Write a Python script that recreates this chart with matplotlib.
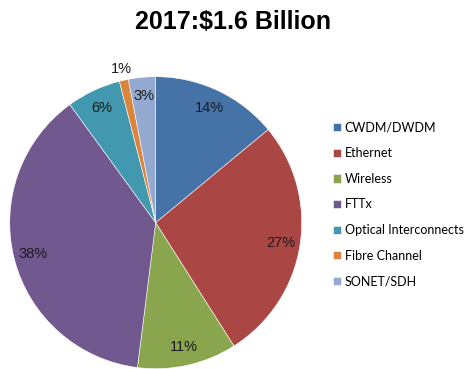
import matplotlib
matplotlib.use("Agg")
import matplotlib.pyplot as plt

# market share by segment, 2017
segments = ["CWDM/DWDM", "Ethernet", "Wireless", "FTTx",
            "Optical Interconnects", "Fibre Channel", "SONET/SDH"]
shares = [14, 27, 11, 38, 6, 1, 3]
colors = ["#4572A7", "#AA4643", "#89A54E", "#71588F", "#4198AF", "#DB843D", "#93A9CF"]

fig = plt.figure(figsize=(4.72, 3.69), dpi=100)
ax = fig.add_axes([0.0206, 0.0008, 0.6186, 0.7913])

wedges, texts, pcts = ax.pie(shares, colors=colors, startangle=90, counterclock=False,
                             radius=1, autopct="%1.0f%%", pctdistance=0.87,
                             wedgeprops=dict(edgecolor="white", linewidth=0.4),
                             textprops=dict(fontsize=10.5, family="Liberation Sans", color="#1a1a1a"))
# the thin Fibre Channel slice gets its label outside
x, y = pcts[5].get_position()
pcts[5].set_position((x * 1.08 / 0.87, y * 1.08 / 0.87))
ax.set_xlim(-1, 1)
ax.set_ylim(-1, 1)
ax.set_aspect("equal")
ax.axis("off")

fig.text(0.494, 1 - 22 / 369, "2017:$1.6 Billion", ha="center", va="center",
         fontsize=18, fontweight="bold", family="Liberation Sans")

fig.legend(wedges, segments, loc="upper left", bbox_to_anchor=(0.681, 0.701),
           frameon=False, handlelength=0.65, handleheight=0.65, handletextpad=0.3,
           labelspacing=1.09, prop=dict(family="Lato", size=9))

fig.savefig("out.png", dpi=100)
